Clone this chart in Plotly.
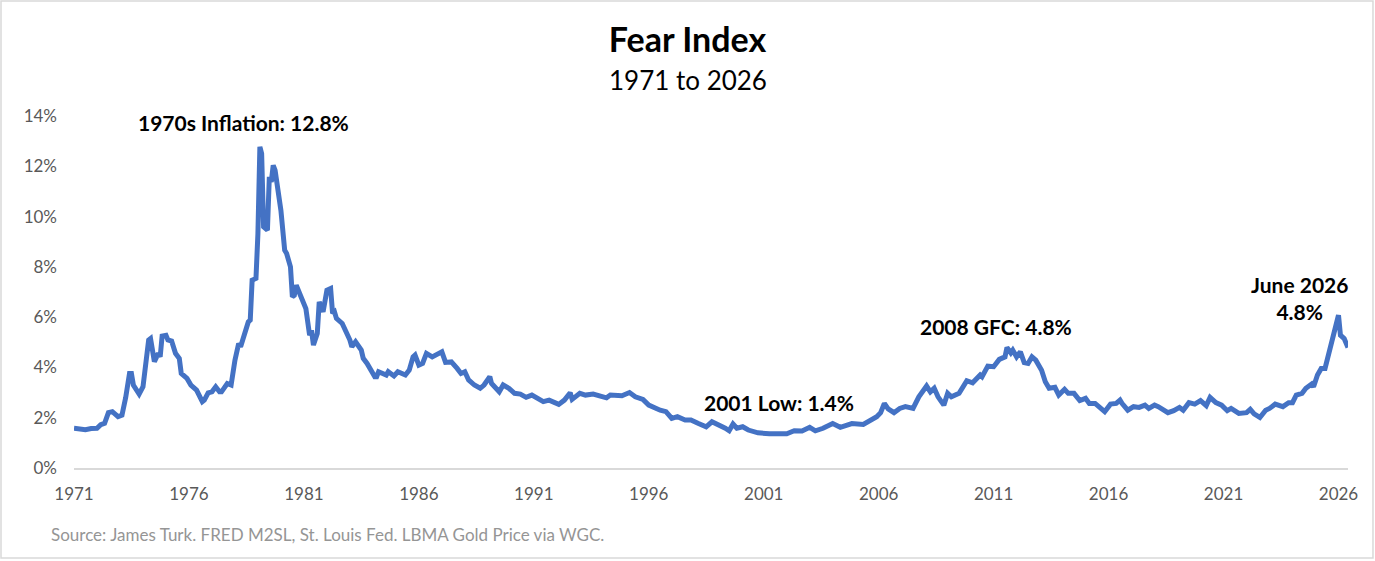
import plotly.graph_objects as go

# monthly readings of the fear index (percent)
dates = [
    "1971-01", "1971-04", "1971-07", "1971-10", "1972-01", "1972-03", "1972-05", "1972-07",
    "1972-09", "1972-12", "1973-02", "1973-04", "1973-06", "1973-07", "1973-08", "1973-11",
    "1974-01", "1974-04", "1974-05", "1974-07", "1974-09", "1974-10", "1974-11", "1975-01",
    "1975-02", "1975-04", "1975-06", "1975-08", "1975-09", "1975-12", "1976-02", "1976-05",
    "1976-08", "1976-09", "1976-11", "1977-01", "1977-03", "1977-05", "1977-06", "1977-09",
    "1977-11", "1978-01", "1978-03", "1978-04", "1978-08", "1978-09", "1978-10", "1978-12",
    "1979-01", "1979-02", "1979-03", "1979-04", "1979-06", "1979-07", "1979-08", "1979-09",
    "1979-10", "1980-01", "1980-03", "1980-04", "1980-06", "1980-07", "1980-08", "1980-09",
    "1980-10", "1980-12", "1981-02", "1981-04", "1981-05", "1981-06", "1981-08", "1981-09",
    "1981-11", "1982-01", "1982-03", "1982-04", "1982-05", "1982-06", "1982-09", "1983-01",
    "1983-02", "1983-04", "1983-07", "1983-08", "1983-10", "1984-02", "1984-03", "1984-04",
    "1984-08", "1984-09", "1984-12", "1985-02", "1985-06", "1985-08", "1985-10", "1985-11",
    "1986-01", "1986-03", "1986-05", "1986-08", "1986-11", "1987-01", "1987-03", "1987-06",
    "1987-09", "1987-11", "1988-01", "1988-03", "1988-06", "1988-09", "1988-11", "1989-02",
    "1989-03", "1989-07", "1989-09", "1989-12", "1990-03", "1990-06", "1990-09", "1990-12",
    "1991-06", "1991-09", "1992-02", "1992-05", "1992-08", "1992-09", "1993-01", "1993-04",
    "1993-08", "1993-11", "1994-03", "1994-05", "1994-11", "1995-03", "1995-06", "1995-10",
    "1996-01", "1996-07", "1996-10", "1997-01", "1997-04", "1997-08", "1997-11", "1998-03",
    "1998-07", "1998-10", "1999-02", "1999-05", "1999-07", "1999-09", "1999-11", "2000-02",
    "2000-05", "2000-10", "2001-04", "2001-09", "2002-01", "2002-05", "2002-09", "2003-01",
    "2003-04", "2003-08", "2004-01", "2004-05", "2004-08", "2004-11", "2005-05", "2005-08",
    "2005-12", "2006-02", "2006-04", "2006-06", "2006-09", "2006-12", "2007-03", "2007-07",
    "2007-10", "2008-02", "2008-04", "2008-06", "2008-08", "2008-11", "2009-01", "2009-03",
    "2009-07", "2009-11", "2010-02", "2010-06", "2010-07", "2010-10", "2011-01", "2011-04",
    "2011-07", "2011-08", "2011-10", "2011-11", "2012-01", "2012-03", "2012-05", "2012-07",
    "2012-09", "2012-11", "2013-02", "2013-04", "2013-06", "2013-09", "2013-11", "2014-02",
    "2014-04", "2014-07", "2014-10", "2015-01", "2015-03", "2015-06", "2015-08", "2015-11",
    "2016-02", "2016-05", "2016-07", "2016-08", "2016-11", "2017-02", "2017-05", "2017-08",
    "2017-10", "2018-01", "2018-03", "2018-08", "2018-11", "2019-02", "2019-04", "2019-07",
    "2019-10", "2020-01", "2020-04", "2020-06", "2020-09", "2020-12", "2021-03", "2021-05",
    "2021-09", "2022-01", "2022-03", "2022-05", "2022-08", "2022-11", "2023-01", "2023-04",
    "2023-08", "2023-11", "2024-01", "2024-03", "2024-06", "2024-08", "2024-11", "2024-12",
    "2025-02", "2025-04", "2025-06", "2025-08", "2025-09", "2025-10", "2025-12", "2026-01",
    "2026-02", "2026-04", "2026-06",
]

fear_index = [
    1.58, 1.55, 1.52, 1.57, 1.58, 1.72, 1.78, 2.20,
    2.24, 2.04, 2.10, 2.80, 3.76, 3.76, 3.30, 2.94,
    3.23, 5.09, 5.15, 4.23, 4.56, 4.42, 5.25, 5.28,
    5.09, 5.05, 4.56, 4.36, 3.76, 3.56, 3.30, 3.10,
    2.64, 2.70, 2.99, 3.03, 3.23, 3.03, 3.03, 3.36,
    3.30, 4.29, 4.95, 4.82, 5.81, 5.88, 7.47, 7.54,
    9.32, 12.77, 12.50, 9.59, 9.46, 11.58, 11.38, 12.04,
    11.84, 10.25, 8.66, 8.53, 8.00, 6.81, 6.87, 7.27,
    7.07, 6.68, 6.34, 5.28, 5.48, 4.89, 5.35, 6.61,
    6.21, 7.07, 7.14, 6.15, 6.21, 5.95, 5.75, 5.09,
    4.82, 5.02, 4.69, 4.36, 4.16, 3.63, 3.63, 3.83,
    3.70, 3.83, 3.66, 3.83, 3.70, 3.89, 4.42, 4.49,
    4.09, 4.16, 4.56, 4.42, 4.52, 4.62, 4.20, 4.22,
    3.96, 3.76, 3.83, 3.50, 3.30, 3.17, 3.30, 3.63,
    3.36, 3.03, 3.30, 3.17, 2.97, 2.94, 2.81, 2.90,
    2.64, 2.70, 2.53, 2.70, 2.99, 2.73, 2.97, 2.90,
    2.94, 2.86, 2.79, 2.90, 2.87, 3.00, 2.83, 2.73,
    2.50, 2.30, 2.24, 1.97, 2.04, 1.91, 1.91, 1.77,
    1.64, 1.84, 1.71, 1.58, 1.48, 1.75, 1.58, 1.64,
    1.51, 1.40, 1.36, 1.37, 1.36, 1.48, 1.47, 1.62,
    1.48, 1.58, 1.77, 1.62, 1.67, 1.77, 1.73, 1.84,
    2.04, 2.20, 2.57, 2.35, 2.20, 2.37, 2.44, 2.37,
    2.83, 3.26, 3.03, 3.17, 2.83, 2.50, 2.97, 2.83,
    2.97, 3.47, 3.39, 3.70, 3.63, 4.05, 4.03, 4.32,
    4.42, 4.79, 4.58, 4.69, 4.42, 4.62, 4.19, 4.16,
    4.42, 4.29, 3.89, 3.43, 3.17, 3.21, 2.90, 3.13,
    2.97, 2.97, 2.68, 2.77, 2.57, 2.57, 2.44, 2.24,
    2.54, 2.57, 2.70, 2.57, 2.30, 2.44, 2.41, 2.50,
    2.37, 2.50, 2.44, 2.20, 2.28, 2.41, 2.30, 2.60,
    2.54, 2.68, 2.48, 2.81, 2.60, 2.50, 2.28, 2.37,
    2.17, 2.20, 2.33, 2.15, 2.01, 2.30, 2.37, 2.54,
    2.44, 2.60, 2.60, 2.90, 2.97, 3.17, 3.34, 3.23,
    3.70, 3.96, 3.96, 4.56, 4.85, 5.06, 5.62, 6.08,
    5.28, 5.15, 4.79,
]

tick_years = list(range(1971, 2027, 5))

FONT = "Lato"
GREY = "#595959"

fig = go.Figure()

fig.add_trace(go.Scatter(
    x=dates,
    y=fear_index,
    mode="lines",
    line=dict(color="#4472C4", width=5),
    hoverinfo="x+y",
    showlegend=False,
))

# -----------------------------
# Labels on the chart
# -----------------------------
labels = [
    ("1978-05-20", 13.75, "1970s Inflation: 12.8%"),
    ("2001-09-01", 2.62, "2001 Low: 1.4%"),
    ("2011-02-15", 5.64, "2008 GFC: 4.8%"),
    ("2024-04-20", 6.76, "June 2026<br>4.8%"),
]
for lx, ly, txt in labels:
    fig.add_annotation(
        x=lx, y=ly, xref="x", yref="y", text=f"<b>{txt}</b>",
        showarrow=False, font=dict(family=FONT, size=21, color="black"),
        xanchor="center", yanchor="middle",
    )

# subtitle and source line
fig.add_annotation(
    x=0.4816, y=1.102, xref="paper", yref="paper", text="1971 to 2026",
    showarrow=False, font=dict(family=FONT, size=26, color="black"),
    xanchor="center", yanchor="middle",
)
fig.add_annotation(
    x=-0.0196, y=-0.19, xref="paper", yref="paper",
    text="Source: James Turk. FRED M2SL, St. Louis Fed. LBMA Gold Price via WGC.",
    showarrow=False, font=dict(family=FONT, size=17, color="#959595"),
    xanchor="left", yanchor="middle",
)

# chart border
fig.add_shape(
    type="rect", xref="paper", yref="paper",
    x0=-0.0573, x1=1.0196, y0=-0.2557, y1=1.3267,
    line=dict(color="#D9D9D9", width=1.5), fillcolor="rgba(0,0,0,0)",
)

fig.update_layout(
    width=1375,
    height=561,
    margin=dict(l=74, r=27, t=116, b=93),
    paper_bgcolor="white",
    plot_bgcolor="white",
    title=dict(
        text="<b>Fear Index</b>", x=0.5, xanchor="center",
        y=1 - 40 / 561, yanchor="middle",
        font=dict(family=FONT, size=34, color="black"),
    ),
    font=dict(family=FONT, size=17, color=GREY),
    xaxis=dict(
        type="date",
        range=["1971-01-01", "2026-06-01"],
        tickvals=[f"{y}-01-01" for y in tick_years],
        ticktext=[str(y) for y in tick_years],
        showgrid=False,
        zeroline=False,
        showline=True,
        linecolor="#D9D9D9",
        linewidth=1.5,
        ticks="",
        ticklabelstandoff=10,
        tickfont=dict(family=FONT, size=17, color=GREY),
    ),
    yaxis=dict(
        range=[0, 14],
        dtick=2,
        ticksuffix="%",
        showgrid=False,
        zeroline=False,
        showline=False,
        ticks="",
        ticklabelstandoff=16,
        tickfont=dict(family=FONT, size=17, color=GREY),
    ),
)

# page body has a default margin; drop it so the figure sits at the corner
fig.write_html(
    "out.html",
    config={"displayModeBar": False},
    post_script="document.body.style.margin='0';",
)
